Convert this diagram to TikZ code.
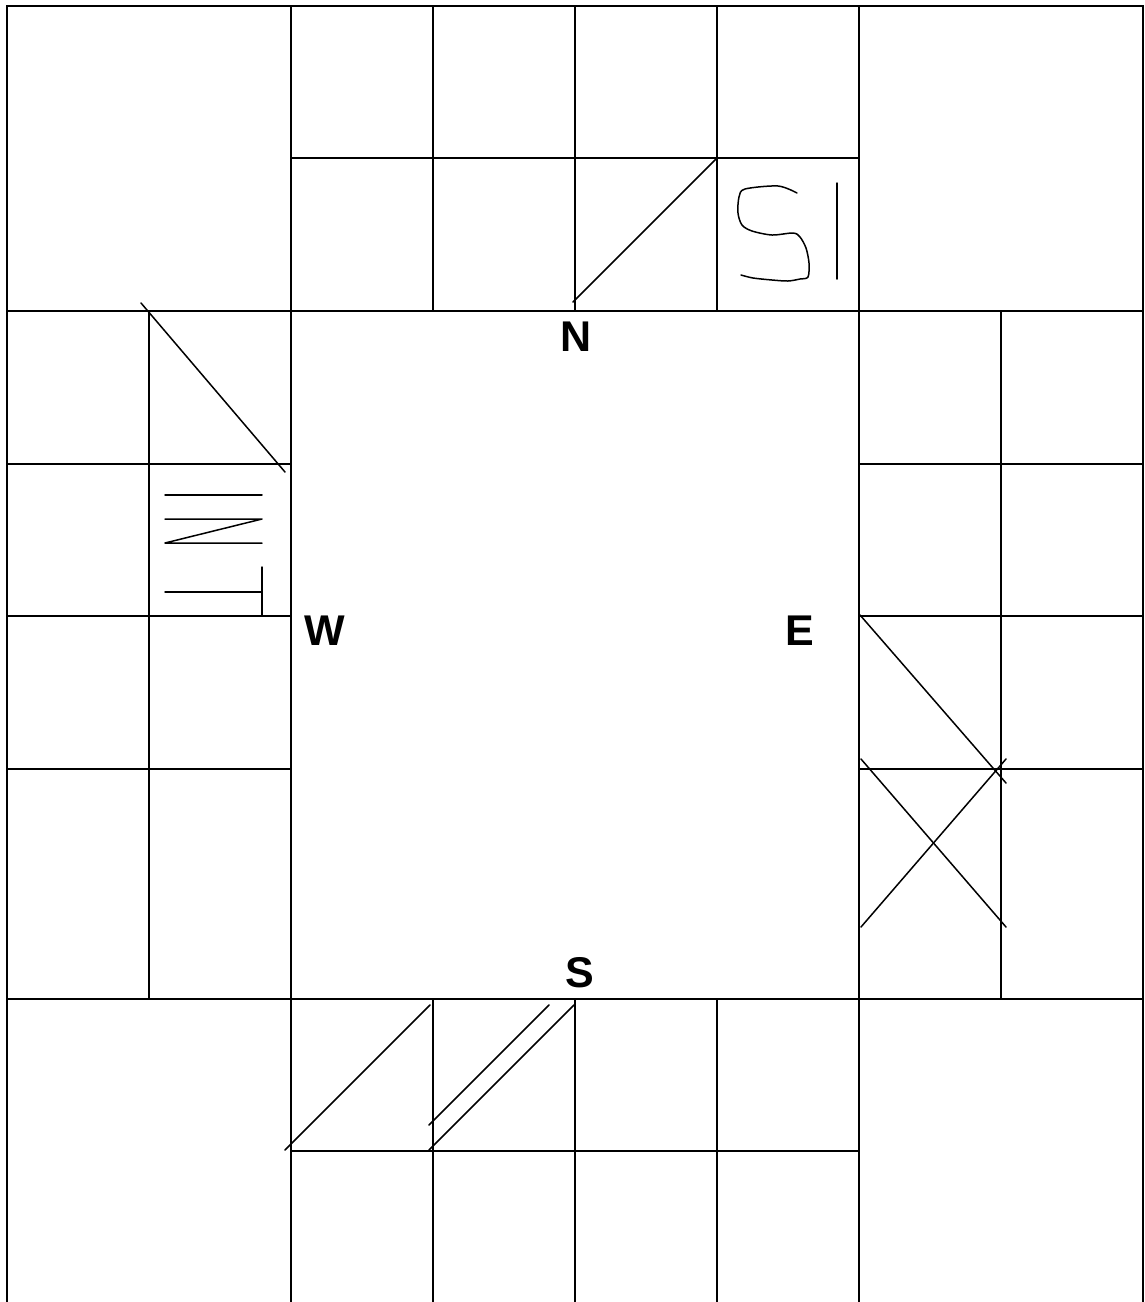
\documentclass[tikz,border=0pt]{standalone}
\usepackage{fontspec}
\setmainfont{Liberation Sans}
\usepackage{tikz}
\usetikzlibrary{positioning}

\begin{document}
\begin{tikzpicture}[
  x=1pt, y=-1pt,
  wall/.style={draw, line width=2.4pt},
  stroke/.style={draw, line width=1.5pt, line cap=round, line join=round},
  dirlbl/.style={font=\fontsize{43}{43}\selectfont\bfseries, inner sep=0pt}
]
\useasboundingbox (0,0) rectangle (1144,1302);
% outer frame and the two long rows
\draw[wall] (7,1302) -- (7,6) -- (1143,6) -- (1143,1302);
\draw[wall] (7,311) -- (1143,311);
\draw[wall] (7,999) -- (1143,999);
\draw[wall] (291,6) -- (291,1302);
\draw[wall] (859,6) -- (859,1302);
% top and bottom strips
\draw[wall] (291,158) -- (859,158);
\draw[wall] (291,1151) -- (859,1151);
\foreach \cx in {433,575,717} {
  \draw[wall] (\cx,6) -- (\cx,311);
  \draw[wall] (\cx,999) -- (\cx,1302);
}
% side strips
\draw[wall] (149,311) -- (149,999);
\draw[wall] (1001,311) -- (1001,999);
\foreach \cy in {464,616,769} {
  \draw[wall] (7,\cy) -- (291,\cy);
  \draw[wall] (859,\cy) -- (1143,\cy);
}

% compass labels
\node[dirlbl] (north) at (576,337) {N};
\node[dirlbl] (west)  at (325,631) {W};
\node[dirlbl] (east)  at (800,631) {E};
\node[dirlbl] (south) at (580,973) {S};

% top marks
\draw[stroke] (573,302) -- (717,158);
\draw[stroke] plot[smooth] coordinates {(797,193) (778,186) (745,189) (739,197)
  (738,213) (742,225) (752,231) (772,235) (793,233) (800,237) (806,248)
  (809,263) (808,277) (800,279) (788,281) (772,280) (753,278) (741,275)};
\draw[stroke] (837,183) -- (837,279);
% left marks
\draw[stroke] (141,303) -- (285,472);
\draw[stroke] (165,495) -- (262,495);
\draw[stroke] (165,519) -- (262,519) -- (165,543) -- (262,543);
\draw[stroke] (165,592) -- (262,592);
\draw[stroke] (262,567) -- (262,616);
% right marks
\draw[stroke] (860,615) -- (1006,783);
\draw[stroke] (861,759) -- (1006,927);
\draw[stroke] (861,927) -- (1006,759);
% bottom marks
\draw[stroke] (285,1150) -- (430,1005);
\draw[stroke] (429,1125) -- (549,1005);
\draw[stroke] (429,1150) -- (574,1005);
\end{tikzpicture}
\end{document}
